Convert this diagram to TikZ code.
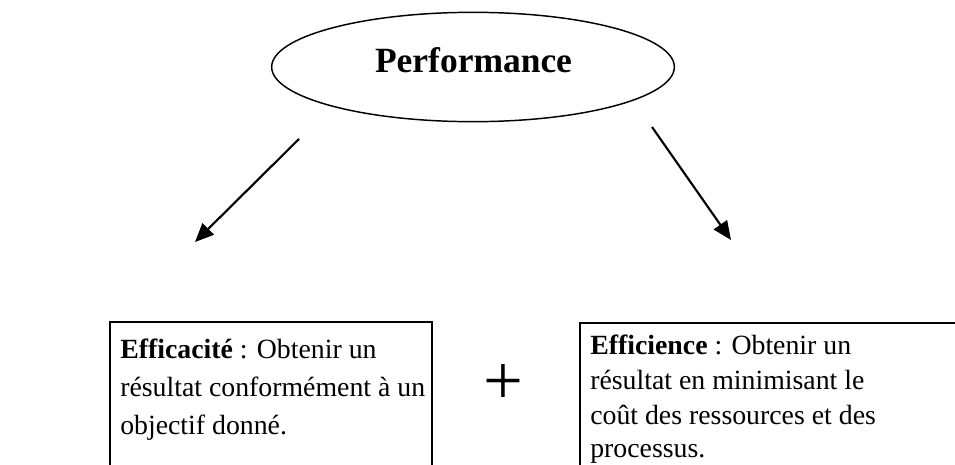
\documentclass[tikz,border=0pt]{standalone}
\usepackage{fontspec}
\setmainfont{Liberation Serif}
\usetikzlibrary{shapes.geometric,arrows.meta}
\begin{document}
\begin{tikzpicture}[x=0.75pt,y=-0.75pt,
  body/.style={font=\fontsize{20.85pt}{25pt}\selectfont, anchor=base west, inner sep=0pt},
  arr/.style={line width=1.6pt, -{Triangle[length=14pt,width=12pt]}},
  box/.style={draw, anchor=north west, inner sep=0pt, outer sep=0pt}]
\useasboundingbox (0,0) rectangle (955,464);
\clip (0,0) rectangle (955,464);
% ellipse
\node[ellipse, draw, line width=1.1pt, minimum width=302pt, minimum height=82pt, inner sep=0pt] (perf) at (473,67) {};
\node[font=\fontsize{26.6pt}{30pt}\selectfont\bfseries, anchor=base, inner sep=0pt] (perftxt) at (473.5,72) {Performance};
% arrows
\coordinate (la1) at (299,139);
\coordinate (la2) at (195,242);
\coordinate (ra1) at (652,127);
\coordinate (ra2) at (731,240);
\draw[arr] (la1) -- (la2);
\draw[arr] (ra1) -- (ra2);
% boxes
\node[box, line width=1.4pt, minimum width=241.5pt, minimum height=150pt] (lbox) at (110,322) {};
\node[box, line width=0.8pt, minimum width=290pt, minimum height=150pt] (rbox) at (580,323) {};
% left text
\node[body] (l1) at (120,358) {\textbf{Efficacité} : Obtenir un};
\node[body] (l2) at (120,396) {résultat conformément à un};
\node[body] (l3) at (120,434) {objectif donné.};
% right text
\node[body] (r1) at (590,354) {\textbf{Efficience} : Obtenir un};
\node[body] (r2) at (590,389.5) {résultat en minimisant le};
\node[body] (r3) at (590,424.5) {coût des ressources et des};
\node[body] (r4) at (590,457) {processus.};
% plus
\node[font=\fontsize{53pt}{60pt}\selectfont, inner sep=0pt] (plus) at (503,385) {+};
\end{tikzpicture}
\end{document}
